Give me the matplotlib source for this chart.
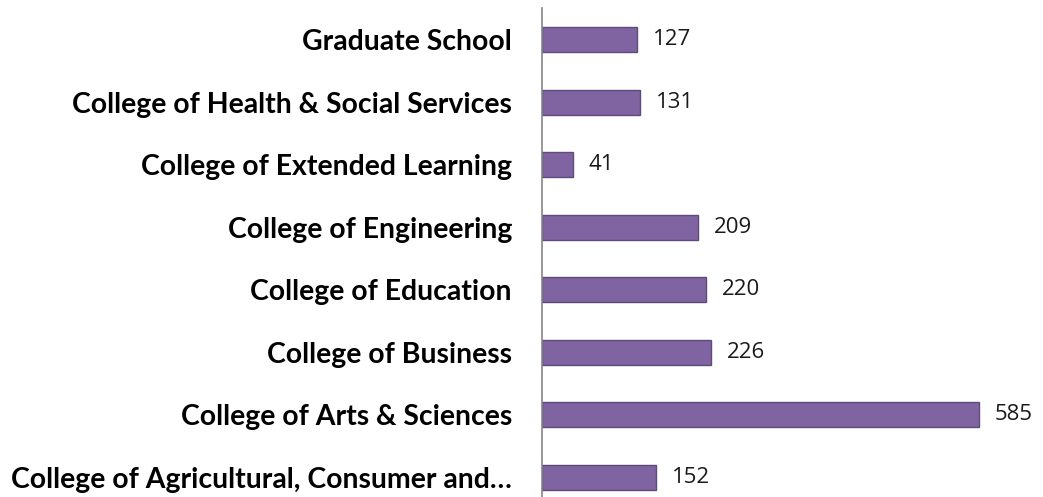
import matplotlib
matplotlib.use("Agg")
import matplotlib.pyplot as plt

categories = [
    "College of Agricultural, Consumer and…",
    "College of Arts & Sciences",
    "College of Business",
    "College of Education",
    "College of Engineering",
    "College of Extended Learning",
    "College of Health & Social Services",
    "Graduate School",
]
values = [152, 585, 226, 220, 209, 41, 131, 127]

W, H = 1043, 497
fig = plt.figure(figsize=(W / 100, H / 100), dpi=100)
x0 = 542
px_per_unit = 437 / 585
xmax = 650
top_px, bot_px = 8.2, 508.8
ax = fig.add_axes([x0 / W, (H - bot_px) / H, xmax * px_per_unit / W, (bot_px - top_px) / H])

ypos = list(range(len(categories)))
ax.barh(ypos, values, height=0.40, color="#8064A2", edgecolor="#5E4A7D", linewidth=1.0)
ax.set_xlim(0, xmax)
ax.set_ylim(-0.5, len(categories) - 0.5)

for y, v in zip(ypos, values):
    ax.text(v + 16 / px_per_unit, y, str(v), va="center", ha="left",
            fontsize=16, family="Open Sans", color="#1a1a1a")

ax.set_yticks(ypos)
ax.set_yticklabels(categories, fontsize=20.4, fontweight="bold", family="Lato")
ax.tick_params(axis="y", length=0, pad=21.6)
ax.set_xticks([])
for s in ["top", "right", "bottom"]:
    ax.spines[s].set_visible(False)
ax.spines["left"].set_color("#868686")
ax.spines["left"].set_linewidth(1.2)

fig.savefig("out.png", dpi=100)
